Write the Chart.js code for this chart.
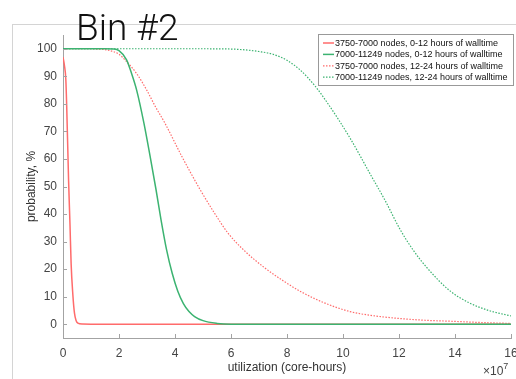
<!DOCTYPE html>
<html>
<head>
<meta charset="utf-8">
<script src="https://cdn.jsdelivr.net/npm/chart.js@4/dist/chart.umd.min.js"></script>
<style>
  html, body { margin: 0; padding: 0; background: #fff; }
  #wrap { position: relative; width: 516px; height: 379px; overflow: hidden; }
  #frame { position: absolute; left: 12px; top: 24px; right: 0; bottom: 0;
           border-top: 1px solid #d4d4d4; border-left: 1px solid #d4d4d4; }
  #chart { position: absolute; left: 0; top: 0; }
  #title { position: absolute; left: 76px; top: 9px; font-family: Roboto, "Liberation Sans", sans-serif;
           font-weight: 300; font-size: 37px; line-height: 37px; color: #111; }
  #exp { position: absolute; left: 483px; top: 361px; font-family: "Liberation Sans", Arial, sans-serif;
         font-size: 12px; color: #444; }
  #exp sup { font-size: 9px; vertical-align: 6px; }
</style>
</head>
<body>
<div id="wrap">
  <div id="frame"></div>
  <canvas id="chart" width="516" height="379"></canvas>
  <div id="title">Bin #2</div>
  <div id="exp">&times;10<sup>7</sup></div>
</div>
<script>
// utilization in units of 1e7 core-hours, probability in %
const labels = [
  "3750-7000 nodes, 0-12 hours of walltime",
  "7000-11249 nodes, 0-12 hours of walltime",
  "3750-7000 nodes, 12-24 hours of walltime",
  "7000-11249 nodes, 12-24 hours of walltime"
];

const redSolidX = [0, 0.05, 0.1, 0.13, 0.2, 0.25, 0.29, 0.35, 0.41, 0.47, 0.53, 0.7, 1, 2, 4, 6, 8, 10, 12, 14, 16];
const redSolidY = [97, 94, 89, 80, 52, 36, 22, 11, 4, 1.3, 0.4, 0.05, 0, 0, 0, 0, 0, 0, 0, 0, 0];

const greenSolidX = [0, 1, 1.5, 1.8, 2.0, 2.27, 2.45, 2.63, 2.89, 3.11, 3.32, 3.5, 3.7, 3.9, 4.1, 4.3, 4.5, 4.7, 5.0, 5.5, 6, 8, 10, 12, 14, 16];
const greenSolidY = [100, 100, 100, 99.9, 99.3, 96, 91, 85, 73, 61, 49, 38, 27, 18.5, 12, 7.5, 4.6, 2.8, 1.3, 0.3, 0, 0, 0, 0, 0, 0];

const redDotX = [0, 1, 1.2, 1.6, 2.0, 2.21, 2.63, 2.99, 3.3, 3.64, 4.24, 4.89, 5.4, 5.9, 6.5, 7.2, 7.86, 8.5, 9.3, 10.25, 11, 12, 13, 13.8, 15, 16];
const redDotY = [100, 100, 99.9, 99.5, 98, 96, 91, 85, 79, 73, 61, 49, 40.5, 33, 26.5, 20.5, 15.8, 11.8, 7.9, 4.6, 3.2, 2.1, 1.4, 1.1, 0.6, 0.3];

const greenDotX = [0, 4, 5, 6, 6.5, 7.0, 7.5, 8.0, 8.46, 9.0, 9.5, 10.25, 11, 11.5, 12.04, 12.5, 13, 13.82, 14.5, 15.2, 16];
const greenDotY = [100, 100, 100, 99.9, 99.6, 99, 98, 95.8, 92.4, 86.5, 79.5, 67.6, 54, 45, 34.4, 27, 20.5, 12.1, 7.8, 5, 3];

const xTicks = [0, 2, 4, 6, 8, 10, 12, 14, 16];
const yTicks = [0, 10, 20, 30, 40, 50, 60, 70, 80, 90, 100];

const RED = "#ff6b6b";
const GREEN = "#3cb371";
const AXIS = "#a3a3a3";
const TEXT = "#444";

function pts(xs, ys) {
  return xs.map((x, i) => ({ x: x, y: ys[i] }));
}

// little legend box in the top right corner, drawn over the curves
const legendBox = {
  id: "legendBox",
  afterDraw(chart) {
    const ctx = chart.ctx;
    ctx.save();
    ctx.setLineDash([]);
    ctx.fillStyle = "#fff";
    ctx.fillRect(318.5, 34.5, 195, 51);
    ctx.strokeStyle = "#999";
    ctx.lineWidth = 1;
    ctx.strokeRect(318.5, 34.5, 195, 51);
    ctx.font = "9px 'Liberation Sans', Arial, sans-serif";
    ctx.textBaseline = "middle";
    chart.data.datasets.forEach((ds, i) => {
      const y = 43 + i * 11.4;
      ctx.strokeStyle = ds.borderColor;
      ctx.lineWidth = ds.borderWidth;
      ctx.setLineDash(ds.borderDash || []);
      ctx.beginPath();
      ctx.moveTo(323, y);
      ctx.lineTo(334, y);
      ctx.stroke();
      ctx.fillStyle = "#111";
      ctx.fillText(ds.label, 335, y + 0.5);
    });
    ctx.restore();
  }
};

// matlab style tick marks pointing inward
const innerTicks = {
  id: "innerTicks",
  afterDraw(chart) {
    const ctx = chart.ctx;
    const xs = chart.scales.x, ys = chart.scales.y;
    const a = chart.chartArea;
    ctx.save();
    ctx.strokeStyle = AXIS;
    ctx.lineWidth = 1;
    xs.ticks.forEach(t => {
      const px = Math.round(xs.getPixelForValue(t.value)) + 0.5;
      ctx.beginPath();
      ctx.moveTo(px, a.bottom);
      ctx.lineTo(px, a.bottom - 4);
      ctx.stroke();
    });
    ys.ticks.forEach(t => {
      const py = Math.round(ys.getPixelForValue(t.value)) + 0.5;
      ctx.beginPath();
      ctx.moveTo(a.left, py);
      ctx.lineTo(a.left + 4, py);
      ctx.stroke();
    });
    ctx.restore();
  }
};

Chart.defaults.font.family = "'Liberation Sans', Arial, sans-serif";
Chart.defaults.font.size = 12;
Chart.defaults.color = TEXT;

new Chart(document.getElementById("chart"), {
  type: "line",
  data: {
    datasets: [
      { label: labels[0], data: pts(redSolidX, redSolidY), borderColor: RED, borderWidth: 1.5, order: 1 },
      { label: labels[1], data: pts(greenSolidX, greenSolidY), borderColor: GREEN, borderWidth: 1.5, order: 0 },
      { label: labels[2], data: pts(redDotX, redDotY), borderColor: RED, borderWidth: 1.2, borderDash: [1.5, 1.5], order: 2 },
      { label: labels[3], data: pts(greenDotX, greenDotY), borderColor: GREEN, borderWidth: 1.2, borderDash: [1.5, 1.5], order: 3 }
    ]
  },
  options: {
    responsive: false,
    animation: false,
    devicePixelRatio: 1,
    layout: { padding: { top: 35, right: 5, bottom: 0, left: 0 } },
    plugins: { legend: { display: false }, tooltip: { enabled: false } },
    elements: { point: { radius: 0 }, line: { cubicInterpolationMode: "monotone", fill: false } },
    scales: {
      x: {
        type: "linear",
        min: 0, max: 16,
        afterBuildTicks: s => { s.ticks = xTicks.map(v => ({ value: v })); },
        afterFit: s => { s.height = 41; s.paddingLeft = 0; s.paddingRight = 0; },
        grid: { display: false, drawTicks: false },
        border: { display: true, color: AXIS, width: 1 },
        ticks: { padding: 8, color: TEXT, maxRotation: 0, autoSkip: false },
        title: { display: true, text: "utilization (core-hours)", color: "#333",
                 font: { size: 12 }, padding: { top: 4.5, bottom: 4.5 } }
      },
      y: {
        min: -5, max: 105,
        afterBuildTicks: s => { s.ticks = yTicks.map(v => ({ value: v })); },
        afterFit: s => { s.width = 63; s.paddingTop = 0; s.paddingBottom = 0; },
        grid: { display: false, drawTicks: false },
        border: { display: true, color: AXIS, width: 1 },
        ticks: { padding: 6, color: TEXT },
        title: { display: true, text: "probability, %", color: "#333",
                 font: { size: 12 }, padding: { top: 24, bottom: 24 } }
      }
    }
  },
  plugins: [innerTicks, legendBox]
});
</script>
</body>
</html>
